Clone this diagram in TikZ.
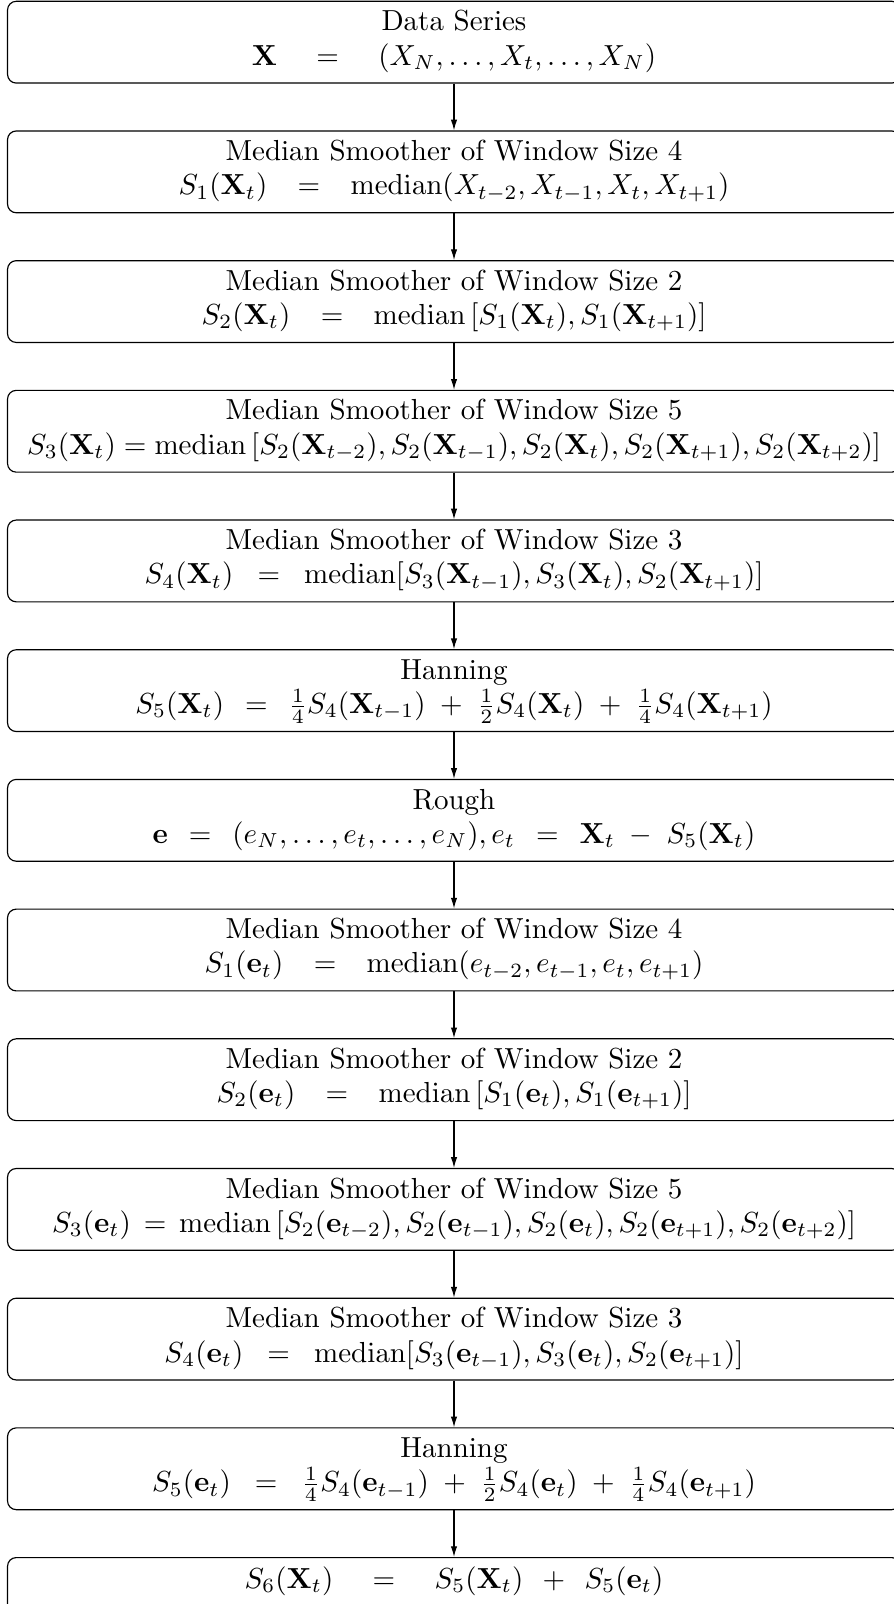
\documentclass[tikz,border=0pt]{standalone}
\usepackage{amsmath}
\usetikzlibrary{arrows.meta}
\tikzset{
  stagebox/.style={draw, line width=0.4pt, rounded corners=3pt, minimum width=307.9pt, minimum height=28.2pt, inner sep=0pt, anchor=north},
  title/.style={anchor=base, inner sep=0pt},
  formula/.style={anchor=base, inner sep=0pt},
  flow/.style={-{Latex[length=3.7pt,width=2.2pt]}, line width=0.4pt}
}
\newcommand{\bx}{\mathbf{X}}
\newcommand{\be}{\mathbf{e}}
\newcommand{\wideeq}{\hspace{7.7pt}=\hspace{7.7pt}}
\newcommand{\widereq}{\hspace{10.8pt}=\hspace{10.8pt}}
\begin{document}
\begin{tikzpicture}[x=1pt,y=1pt]
\useasboundingbox (0,0) rectangle (307.93,-553.1);
\def\cx{156.55}
\foreach \i/\ttl/\eq in {
 1/{Data Series}/{\bx\widereq(X_N,\ldots,X_t,\ldots,X_N)},
 2/{Median Smoother of Window Size 4}/{S_1(\bx_t)\wideeq\mathrm{median}(X_{t-2},X_{t-1},X_t,X_{t+1})},
 3/{Median Smoother of Window Size 2}/{S_2(\bx_t)\wideeq\mathrm{median}\left[S_1(\bx_t),S_1(\bx_{t+1})\right]},
 4/{Median Smoother of Window Size 5}/{S_3(\bx_t)=\mathrm{median}\left[S_2(\bx_{t-2}),S_2(\bx_{t-1}),S_2(\bx_t),S_2(\bx_{t+1}),S_2(\bx_{t+2})\right]},
 5/{Median Smoother of Window Size 3}/{S_4(\bx_t)\;\;=\;\;\mathrm{median}[S_3(\bx_{t-1}),S_3(\bx_t),S_2(\bx_{t+1})]},
 6/{Hanning}/{S_5(\bx_t)\;\,=\;\,\tfrac14S_4(\bx_{t-1})\;+\;\tfrac12S_4(\bx_t)\;+\;\tfrac14S_4(\bx_{t+1})},
 7/{Rough}/{\be\;\,=\;\,(e_N,\ldots,e_t,\ldots,e_N),e_t\;\,=\;\,\bx_t\;-\;S_5(\bx_t)},
 8/{Median Smoother of Window Size 4}/{S_1(\be_t)\wideeq\mathrm{median}(e_{t-2},e_{t-1},e_t,e_{t+1})},
 9/{Median Smoother of Window Size 2}/{S_2(\be_t)\wideeq\mathrm{median}\left[S_1(\be_t),S_1(\be_{t+1})\right]},
 10/{Median Smoother of Window Size 5}/{S_3(\be_t)\,=\,\mathrm{median}\left[S_2(\be_{t-2}),S_2(\be_{t-1}),S_2(\be_t),S_2(\be_{t+1}),S_2(\be_{t+2})\right]},
 11/{Median Smoother of Window Size 3}/{S_4(\be_t)\;\;=\;\;\mathrm{median}[S_3(\be_{t-1}),S_3(\be_t),S_2(\be_{t+1})]},
 12/{Hanning}/{S_5(\be_t)\;\;=\;\;\tfrac14S_4(\be_{t-1})\;+\;\tfrac12S_4(\be_t)\;+\;\tfrac14S_4(\be_{t+1})}}
{
  \pgfmathsetmacro{\ty}{-0.25-(\i-1)*44.72}
  \node[stagebox] (b\i) at (\cx,\ty) {};
  \node[title] (t\i) at ([yshift=-10.4pt]b\i.north) {\ttl};
  \node[formula] (f\i) at ([yshift=-22.2pt]b\i.north) {$\eq$};
}
\pgfmathsetmacro{\ty}{-0.25-12*44.72}
\node[stagebox] (b13) at (\cx,\ty) {};
\node[formula] (f13) at ([yshift=-10.8pt]b13.north) {$S_6(\bx_t)\widereq S_5(\bx_t)\;\,+\;\,S_5(\be_t)$};
\foreach \i [evaluate=\i as \j using int(\i+1)] in {1,...,12}
  \draw[flow] (b\i.south) -- (b\j.north);
\end{tikzpicture}
\end{document}
